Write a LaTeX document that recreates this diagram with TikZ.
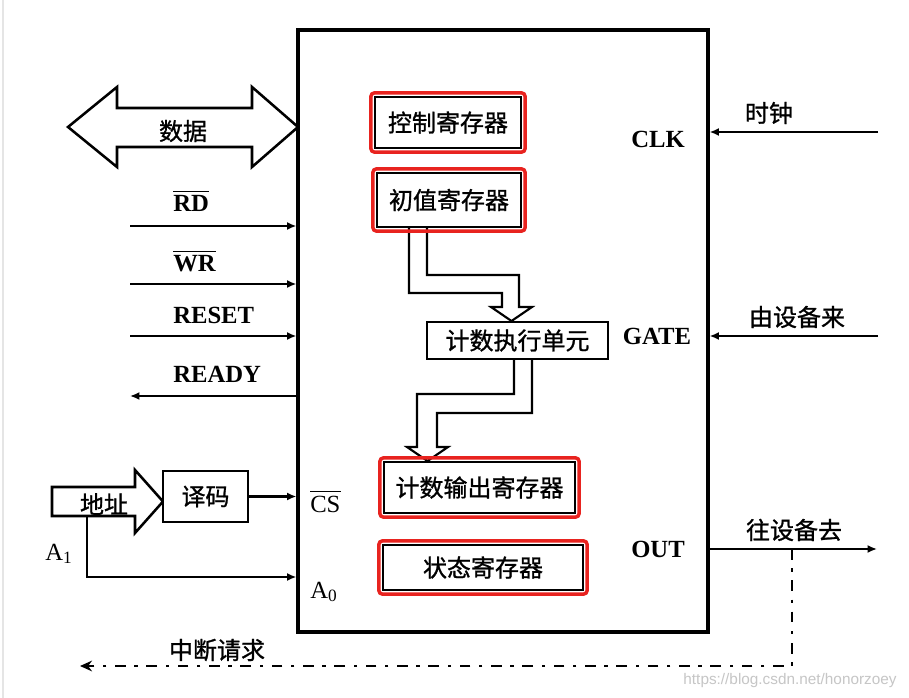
\documentclass[tikz,border=0pt]{standalone}
\usepackage{fontspec}
\setmainfont{Liberation Serif}
\newfontfamily\cjk[FakeBold=1]{Noto Sans CJK SC}
\newfontfamily\wmfont{Liberation Sans}
\usetikzlibrary{arrows.meta,fit}
\definecolor{hl}{HTML}{E8231F}
\begin{document}
\begin{tikzpicture}[x=0.75pt,y=-0.75pt,
  reg/.style={draw, line width=1.7pt, inner sep=0pt, fill=white,
              font=\cjk\fontsize{18}{20}\selectfont},
  hilite/.style={draw=hl, line width=2.6pt, rounded corners=2.5pt, inner sep=2.2pt},
  sig/.style={line width=2pt, -{Latex[length=7pt,width=6pt]}},
  fat/.style={draw, line width=1.6pt, fill=white, line join=miter},
  lat/.style={font=\bfseries\fontsize{18.5}{20}\selectfont, inner sep=0pt},
  latr/.style={font=\fontsize{18.5}{20}\selectfont, inner sep=0pt},
  zh/.style={font=\cjk\fontsize{18}{20}\selectfont, inner sep=0pt},
  ovl/.style={line width=1.3pt},
  dashdot/.style={line width=2pt, dash pattern=on 8pt off 6.5pt on 2.5pt off 6.5pt},
]
\useasboundingbox (0,0) rectangle (909,698);
\fill[white] (0,0) rectangle (909,698);
\draw[gray!20, line width=1.5pt] (3,0) -- (3,698);

% main chip
\node[draw, line width=2.3pt, fit={(298,30) (708,632)}, inner sep=0pt] (chip) {};

% fat internal arrows
\draw[fat] (409,227) -- (409,293) -- (502,293) -- (502,307) -- (491,307)
  -- (511.5,321) -- (532,307) -- (519,307) -- (519,275) -- (427,275) -- (427,227);
\draw[fat] (514,359) -- (514,394) -- (417,394) -- (417,447) -- (407,447)
  -- (427.5,461) -- (448,447) -- (437,447) -- (437,413) -- (532,413) -- (532,359);

% registers
\node[reg, minimum width=109.5pt, minimum height=38.25pt] (ctrl) at (448,122.5) {控制寄存器};
\node[reg, minimum width=108pt, minimum height=40.5pt] (init) at (449,200) {初值寄存器};
\node[reg, minimum width=135.75pt, minimum height=27.75pt] (exec) at (517.5,340.5) {计数执行单元};
\node[reg, minimum width=143.25pt, minimum height=38.25pt] (outl) at (479.5,487.5) {计数输出寄存器};
\node[reg, minimum width=150pt, minimum height=33.75pt] (stat) at (483,567.5) {状态寄存器};
\node[hilite, fit=(ctrl)] (ctrlhl) {};
\node[hilite, fit=(init)] (inithl) {};
\node[hilite, fit=(outl)] (outlhl) {};
\node[hilite, fit=(stat)] (stathl) {};

% data bus double arrow
\draw[fat, line width=1.9pt] (68,127) -- (117,87) -- (117,108) -- (252,108) -- (252,87) -- (298,127)
  -- (252,167) -- (252,147) -- (117,147) -- (117,167) -- cycle;
\node[zh] (data) at (183,131) {数据};

% left control signals
\coordinate (rdin) at (130,226);
\coordinate (wrin) at (130,284);
\coordinate (rstin) at (130,336);
\coordinate (rdyout) at (130,396);
\draw[sig] (rdin) -- (rdin -| chip.west);
\draw[sig] (wrin) -- (wrin -| chip.west);
\draw[sig] (rstin) -- (rstin -| chip.west);
\draw[sig] (rdyout -| chip.west) -- (rdyout);
\node[lat, anchor=base west] (rd) at (173,212) {RD};
\node[lat, anchor=base west] (wr) at (173,272) {WR};
\node[lat, anchor=base west] (rst) at (173,323) {RESET};
\node[lat, anchor=base west] (rdy) at (173,382) {READY};
\draw[ovl] ([yshift=3pt]rd.north west) -- ([yshift=3pt]rd.north east);
\draw[ovl] ([yshift=3pt]wr.north west) -- ([yshift=3pt]wr.north east);

% address / decoder
\draw[fat, line width=1.9pt] (52,487) -- (135,487) -- (135,470) -- (163,501.5) -- (135,533)
  -- (135,516) -- (52,516) -- cycle;
\node[zh] (addr) at (104,504) {地址};
\node[reg, minimum width=63.75pt, minimum height=38.25pt] (dec) at (205.5,496.5) {译码};
\draw[sig] (dec.east) -- (dec.east -| chip.west);
\coordinate (a1tap) at (87,516);
\draw[sig] (a1tap) |- (chip.west |- 0,577);
\node[latr, anchor=base west] (a1) at (45,560) {A\textsubscript{1}};
\node[latr, anchor=base west] (cs) at (310,512) {CS};
\draw[ovl] ([yshift=3pt]cs.north west) -- ([yshift=3pt]cs.north east);
\node[latr, anchor=base west] (a0) at (310,598) {A\textsubscript{0}};

% right side
\coordinate (clkin) at (878,132);
\coordinate (gatein) at (878,336);
\coordinate (outend) at (877,549);
\draw[sig] (clkin) -- (clkin -| chip.east);
\draw[sig] (gatein) -- (gatein -| chip.east);
\draw[sig] (outend -| chip.east) -- (outend);
\node[lat, anchor=base] (clk) at (658,148) {CLK};
\node[lat, anchor=base] (gate) at (657,344) {GATE};
\node[lat, anchor=base] (out) at (658,557) {OUT};
\node[zh] (clkzh) at (769,113) {时钟};
\node[zh] (gatezh) at (797,317) {由设备来};
\node[zh] (outzh) at (794,530) {往设备去};

% interrupt request
\coordinate (tap) at (792,549);
\coordinate (irqend) at (80,666);
\draw[dashdot, -{Stealth[length=9pt,width=8pt]}] (tap) |- (irqend);
\node[zh] (irq) at (217,650) {中断请求};

% watermark
\node[font=\wmfont\fontsize{11.5}{13}\selectfont, text=gray!45, inner sep=0pt] (wm) at (790,681) {https://blog.csdn.net/honorzoey};
\end{tikzpicture}
\end{document}
